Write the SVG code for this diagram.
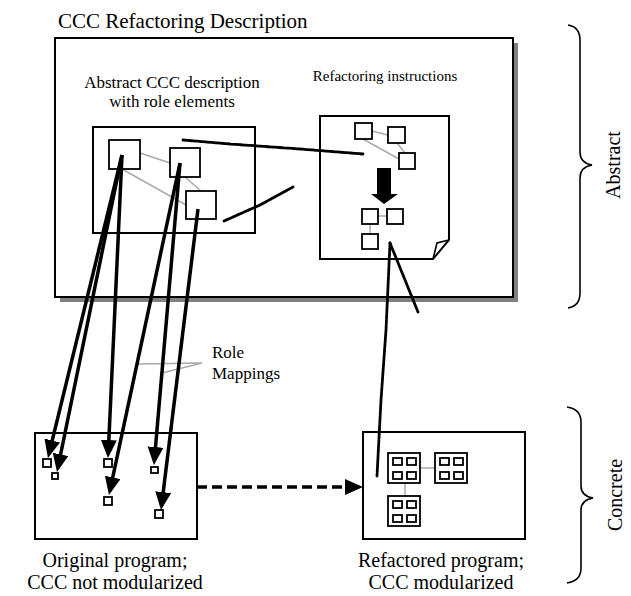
<svg xmlns="http://www.w3.org/2000/svg" width="631" height="596" viewBox="0 0 631 596">
<style>
text{font-family:"Liberation Serif","Times New Roman",serif;fill:#000}
.box{fill:#fff;stroke:#000;stroke-width:2}
.sq{fill:#fff;stroke:#000;stroke-width:1.8}
.gl{stroke:#aaa;stroke-width:1.5;fill:none}
.arr{stroke:#000;stroke-width:3.5;fill:none}
.fz{stroke:#000;stroke-width:2.8;fill:none;stroke-dasharray:4 0.8;stroke-linecap:round}
.br{stroke:#000;stroke-width:1.6;fill:none}
</style>
<defs>
<marker id="ah" markerUnits="userSpaceOnUse" markerWidth="20" markerHeight="17" viewBox="0 0 20 17" refX="14" refY="8" orient="auto">
<path d="M0,0 L18,8 L0,16 z" fill="#000"/>
</marker>
</defs>
<text x="58" y="28" font-size="21">CCC Refactoring Description</text>
<g id="main">
<rect x="60" y="43" width="458" height="259" fill="#808080"/>
<rect x="55" y="38" width="458" height="259" class="box"/>
</g>
<g id="abstract-ccc">
<text x="172" y="88" font-size="17" text-anchor="middle">Abstract CCC description</text>
<text x="172" y="107" font-size="17" text-anchor="middle">with role elements</text>
<rect x="93" y="127" width="162" height="106" class="box"/>
<line x1="140" y1="153" x2="170" y2="163" class="gl"/>
<line x1="122" y1="169" x2="186" y2="205" class="gl"/>
<line x1="185" y1="177" x2="201" y2="191" class="gl"/>
<rect x="109" y="140" width="31" height="29" class="sq"/>
<rect x="170" y="148" width="30" height="29" class="sq"/>
<rect x="186" y="191" width="30" height="28" class="sq"/>
</g>
<g id="instructions">
<text x="385" y="81" font-size="15" text-anchor="middle">Refactoring instructions</text>
<path d="M320,116 H449 V240 L433,259 H320 Z" class="box" stroke-width="1.6"/>
<path d="M433,259 L437,243 L449,240" class="br" stroke-width="1.4"/>
<line x1="372" y1="131" x2="388" y2="135" class="gl"/>
<line x1="363" y1="139" x2="399" y2="159" class="gl"/>
<line x1="397" y1="143" x2="405" y2="153" class="gl"/>
<rect x="355" y="123" width="17" height="16" class="sq"/>
<rect x="388" y="127" width="17" height="16" class="sq"/>
<rect x="399" y="153" width="16" height="16" class="sq"/>
<path d="M377,168 H391 V194 H398 L384,204 L371,194 H377 Z" fill="#000"/>
<line x1="378" y1="216" x2="387" y2="216" class="gl"/>
<line x1="370" y1="224" x2="370" y2="234" class="gl"/>
<rect x="362" y="209" width="16" height="15" class="sq"/>
<rect x="387" y="209" width="16" height="15" class="sq"/>
<rect x="362" y="234" width="16" height="15" class="sq"/>
</g>
<g id="original">
<rect x="35" y="433" width="162" height="106" class="box"/>
<rect x="43" y="459" width="8" height="8" class="sq" stroke-width="1.6"/>
<rect x="52" y="473" width="6" height="6" class="sq" stroke-width="1.6"/>
<rect x="104" y="459" width="8" height="8" class="sq" stroke-width="1.6"/>
<rect x="151" y="467" width="7" height="6" class="sq" stroke-width="1.6"/>
<rect x="104" y="497" width="8" height="8" class="sq" stroke-width="1.6"/>
<rect x="155" y="510" width="8" height="8" class="sq" stroke-width="1.6"/>
<text x="115" y="567" font-size="20" text-anchor="middle">Original program;</text>
<text x="115" y="589" font-size="20" text-anchor="middle">CCC not modularized</text>
</g>
<g id="refactored">
<rect x="363" y="432" width="162" height="107" class="box"/>
<line x1="420" y1="468" x2="435" y2="468" class="gl"/>
<line x1="405" y1="483" x2="405" y2="496" class="gl"/>
<g class="sq" stroke-width="2">
<rect x="388" y="453" width="32" height="30"/>
<rect x="393" y="458" width="9" height="7"/><rect x="407" y="458" width="9" height="7"/>
<rect x="393" y="472" width="9" height="7"/><rect x="407" y="472" width="9" height="7"/>
<rect x="435" y="453" width="32" height="30"/>
<rect x="440" y="458" width="9" height="7"/><rect x="454" y="458" width="9" height="7"/>
<rect x="440" y="472" width="9" height="7"/><rect x="454" y="472" width="9" height="7"/>
<rect x="388" y="496" width="32" height="30"/>
<rect x="393" y="501" width="9" height="7"/><rect x="407" y="501" width="9" height="7"/>
<rect x="393" y="515" width="9" height="7"/><rect x="407" y="515" width="9" height="7"/>
</g>
<text x="441" y="567" font-size="20" text-anchor="middle">Refactored program;</text>
<text x="441" y="589" font-size="20" text-anchor="middle">CCC modularized</text>
</g>
<g id="role-mappings">
<text x="212" y="358" font-size="17">Role</text>
<text x="212" y="379" font-size="17">Mappings</text>
<path d="M138,364 L202,363 L162,373" class="gl" stroke-width="1.8"/>
</g>
<g id="abstract-label">
<path d="M568,25 Q580,27 580,40 V152 Q580,163 592,165 Q580,167 580,178 V293 Q580,306 568,308" class="br"/>
<text transform="translate(620,165) rotate(-90)" font-size="20" text-anchor="middle">Abstract</text>
</g>
<g id="concrete-label">
<path d="M567,407 Q581,409 581,422 V486 Q581,496 593,498 Q581,500 581,510 V568 Q581,581 567,583" class="br"/>
<text transform="translate(622,495) rotate(-90)" font-size="20" text-anchor="middle">Concrete</text>
</g>
<g id="connectors">
<line x1="122" y1="155" x2="48.9" y2="454.1" class="arr" marker-end="url(#ah)"/>
<line x1="122" y1="155" x2="57.8" y2="468.1" class="arr" marker-end="url(#ah)"/>
<line x1="122" y1="155" x2="108.2" y2="454" class="arr" marker-end="url(#ah)"/>
<line x1="180" y1="163" x2="154.3" y2="461" class="arr" marker-end="url(#ah)"/>
<line x1="180" y1="163" x2="109.8" y2="491.1" class="arr" marker-end="url(#ah)"/>
<line x1="198" y1="209" x2="161.5" y2="506" class="arr" marker-end="url(#ah)"/>
<line x1="197" y1="487" x2="359" y2="487" class="arr" stroke-dasharray="10 5" marker-end="url(#ah)"/>
<path d="M183,140 L230,144 L300,149 L363,154" class="fz"/>
<path d="M224,221 L260,205 L293,187" class="fz"/>
<path d="M390,243 L386,330 L381,400 L377,476" class="fz"/>
<path d="M390,243 L418,312" class="fz"/>
</g>
</svg>
